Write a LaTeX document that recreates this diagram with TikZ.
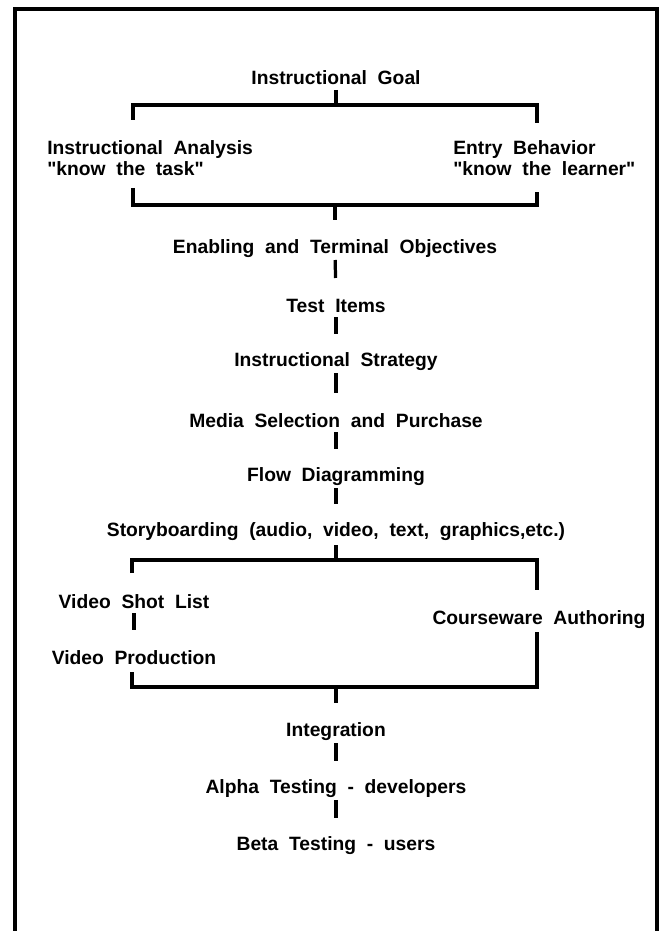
\documentclass[tikz,border=0pt]{standalone}
\usepackage{fontspec}
\setmainfont[WordSpace=2]{Liberation Sans}

\begin{document}
\begin{tikzpicture}[x=0.025cm,y=-0.025cm,
  every node/.style={font=\fontsize{13.7}{14.9}\selectfont\bfseries, inner sep=0pt},
  bracketline/.style={line width=2.3pt},
  riser/.style={bracketline, shorten <=0.275cm, shorten >=0.7cm}]
\useasboundingbox (0,0) rectangle (664,931);
\draw[line width=0.1cm] (15,931) -- (15,9) -- (657,9) -- (657,931); % frame
\node (goal) at (336,78) {Instructional Goal};
\node[anchor=west, align=left] (analysis) at (47,158) {Instructional Analysis\\\textquotedbl know the task\textquotedbl};
\node[anchor=west, align=left] (entry) at (453,158) {Entry Behavior\\\textquotedbl know the learner\textquotedbl};
\node (objectives) at (335,249) {Enabling and Terminal Objectives};
\node (items) at (336,306) {Test Items};
\node (strategy) at (336,362) {Instructional Strategy};
\node (media) at (336,421) {Media Selection and Purchase};
\node (flow) at (336,477) {Flow Diagramming};
\node (story) at (336,532) {Storyboarding (audio, video, text, graphics,etc.)};
\node (shotlist) at (134,602) {Video Shot List};
\node (production) at (134,658) {Video Production};
\node (authoring) at (539,620) {Courseware Authoring};
\node (integration) at (336,732) {Integration};
\node (alpha) at (336,789) {Alpha Testing - developers};
\node (beta) at (336,846) {Beta Testing - users};
% brackets
\coordinate (goal l) at (133,105); \coordinate (goal r) at (537,105);
\coordinate (ia top) at (133,120); \coordinate (eb top) at (537,123);
\coordinate (ia bot) at (133,188); \coordinate (eb bot) at (537,192);
\coordinate (obj l) at (133,205); \coordinate (obj r) at (537,205);
\coordinate (sb l) at (132,560); \coordinate (sb r) at (537,560);
\coordinate (vs top) at (132,573); \coordinate (ca top) at (537,590);
\coordinate (ca bot) at (537,632); \coordinate (vp bot) at (132,672);
\coordinate (int l) at (132,687); \coordinate (int r) at (537,687);
\draw[bracketline] (ia top) -- (goal l) -- (goal r) -- (eb top);
\draw[bracketline, shorten <=0.3cm] (goal.center) -- (goal.center |- goal l);
\draw[bracketline] (ia bot) -- (obj l) -- (obj r) -- (eb bot);
\draw[bracketline, shorten >=0.725cm] (objectives.center |- obj l) -- (objectives.center);
\draw[bracketline] (vs top) -- (sb l) -- (sb r) -- (ca top);
\draw[bracketline, shorten <=0.325cm] (story.center) -- (story.center |- sb l);
\draw[bracketline] (vp bot) -- (int l) -- (int r) -- (ca bot);
\draw[bracketline, shorten >=0.725cm] (integration.center |- int l) -- (integration.center);
% steps
\foreach \a/\b in {objectives/items, items/strategy, strategy/media, media/flow,
  flow/story, shotlist/production, integration/alpha, alpha/beta}
  \draw[riser] (\a.center) -- (\b.center);
\end{tikzpicture}
\end{document}
